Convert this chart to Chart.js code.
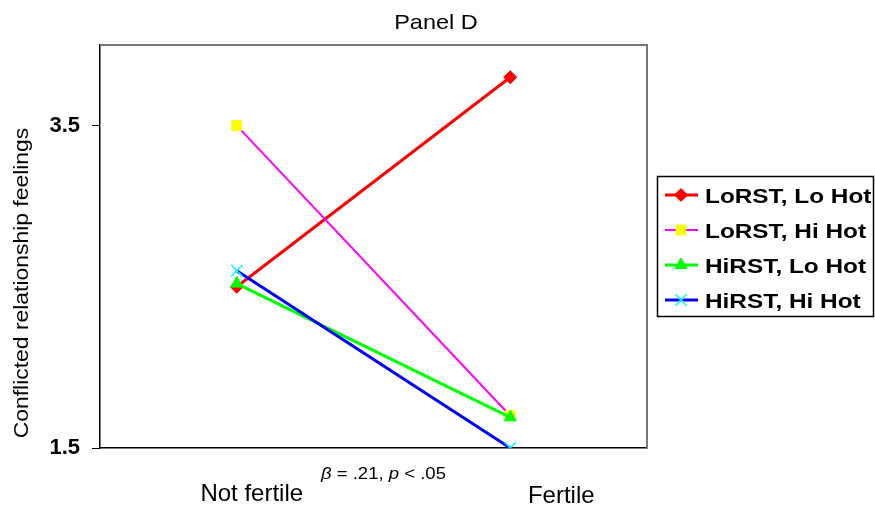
<!DOCTYPE html>
<html>
<head>
<meta charset="utf-8">
<script src="https://cdn.jsdelivr.net/npm/chart.js@4.4.1/dist/chart.umd.min.js"></script>
<style>
  body { margin: 0; background: #fff; }
</style>
</head>
<body>
<canvas id="panelChart" width="875" height="512"></canvas>
<script>
// values
const categories = ['Not fertile', 'Fertile'];
const seriesNames = ['LoRST, Lo Hot', 'LoRST, Hi Hot', 'HiRST, Lo Hot', 'HiRST, Hi Hot'];
const loRstLoHot = [2.50, 3.80];
const loRstHiHot = [3.50, 1.70];
const hiRstLoHot = [2.52, 1.69];
const hiRstHiHot = [2.60, 1.50];
const yTicks = [1.5, 3.5];

const FONT = 'Arial, "Liberation Sans", Helvetica, sans-serif';

function makeSet(label, data, line, fill, edge, style, radius, width, order) {
    return {
        label,
        data,
        borderColor: line,
        backgroundColor: fill,
        pointBackgroundColor: fill,
        pointBorderColor: edge,
        pointBorderWidth: style === 'crossRot' ? 1.5 : 1,
        pointStyle: style,
        pointRadius: radius,
        borderWidth: width,
        order
    };
}

let datasets = [
    makeSet(seriesNames[0], loRstLoHot, '#ff0000', '#ff0000', '#ff0000', 'rectRot', 6.5, 3, 4),
    makeSet(seriesNames[1], loRstHiHot, '#ff00ff', '#ffff00', '#ffff00', 'rect', 7, 2, 3),
    makeSet(seriesNames[2], hiRstLoHot, '#00ff00', '#00ff00', '#00ff00', 'triangle', 7, 3, 2),
    makeSet(seriesNames[3], hiRstHiHot, '#0000ff', '#00ffff', '#00ffff', 'crossRot', 8, 3, 1)
];

// the source figure's text is a bit wider than Arial, so stretch it sideways
function wideText(ctx, text, x, y, sx) {
    ctx.save();
    ctx.translate(x, y);
    ctx.scale(sx, 1);
    ctx.fillText(text, 0, 0);
    ctx.restore();
    return ctx.measureText(text).width * sx;
}

// frame, titles, category labels and legend
const decorations = {
    id: 'decorations',
    afterDraw(chart) {
        const ctx = chart.ctx;
        const a = chart.chartArea;
        const xs = chart.scales.x;
        ctx.save();

        ctx.strokeStyle = '#777';
        ctx.lineWidth = 2;
        ctx.beginPath();
        ctx.moveTo(a.left, a.top);
        ctx.lineTo(a.right, a.top);
        ctx.lineTo(a.right, a.bottom);
        ctx.stroke();

        ctx.fillStyle = '#000';
        ctx.textAlign = 'center';
        ctx.textBaseline = 'alphabetic';
        ctx.font = '21px ' + FONT;
        wideText(ctx, 'Panel D', 436, 29, 1.12);

        ctx.font = '24px ' + FONT;
        wideText(ctx, categories[0], xs.getPixelForValue(0) + 15, 501, 1.0);
        wideText(ctx, categories[1], xs.getPixelForValue(1) + 51, 503, 1.0);

        // beta note
        ctx.textAlign = 'left';
        let x = 321;
        const parts = [['β', 'italic '], [' = .21, ', ''], ['p', 'italic '], [' < .05', '']];
        for (const [t, st] of parts) {
            ctx.font = st + '17px ' + FONT;
            x += wideText(ctx, t, x, 479, 1.09);
        }

        ctx.save();
        ctx.translate(28, 283);
        ctx.rotate(-Math.PI / 2);
        ctx.textAlign = 'center';
        ctx.font = '21px ' + FONT;
        wideText(ctx, 'Conflicted relationship feelings', 0, 0, 1.09);
        ctx.restore();

        // legend
        ctx.strokeStyle = '#000';
        ctx.lineWidth = 1.5;
        ctx.strokeRect(657.5, 176.5, 216, 140);
        const rows = [195, 230, 265, 300];
        chart.data.datasets.forEach((ds, i) => {
            const y = rows[i];
            ctx.strokeStyle = ds.borderColor;
            ctx.lineWidth = ds.borderWidth;
            ctx.beginPath();
            ctx.moveTo(665, y);
            ctx.lineTo(698, y);
            ctx.stroke();
            ctx.fillStyle = ds.pointBackgroundColor;
            ctx.strokeStyle = ds.pointBorderColor;
            ctx.lineWidth = ds.pointBorderWidth;
            Chart.helpers.drawPoint(ctx, {pointStyle: ds.pointStyle, radius: ds.pointRadius, rotation: 0, borderWidth: ds.pointBorderWidth}, 681, y);
            ctx.fillStyle = '#000';
            ctx.textAlign = 'left';
            ctx.font = 'bold 21px ' + FONT;
            wideText(ctx, ds.label, 705, y + 8, 1.16);
        });

        ctx.restore();
    }
};

new Chart(document.getElementById('panelChart').getContext('2d'), {
    type: 'line',
    data: {
        labels: categories,
        datasets: datasets
    },
    options: {
        responsive: false,
        animation: false,
        layout: {
            padding: {left: 0, top: 45, right: 228, bottom: 64}
        },
        plugins: {
            legend: { display: false },
            title: { display: false },
            tooltip: { enabled: false }
        },
        scales: {
            x: {
                type: 'category',
                offset: true,
                ticks: { display: false },
                grid: { display: false },
                border: { display: true, color: '#000', width: 1.5 },
                afterFit: s => { s.height = 0; }
            },
            y: {
                min: 1.5,
                max: 4.0,
                afterBuildTicks: s => { s.ticks = yTicks.map(v => ({value: v})); },
                ticks: {
                    color: '#000',
                    padding: 12,
                    font: { family: FONT, size: 22, weight: 'bold' }
                },
                grid: {
                    drawOnChartArea: false,
                    drawTicks: true,
                    tickLength: 8,
                    color: '#000'
                },
                border: { display: true, color: '#000', width: 1.5 },
                afterFit: s => { s.width = 100; }
            }
        }
    },
    plugins: [decorations]
});
</script>
</body>
</html>
